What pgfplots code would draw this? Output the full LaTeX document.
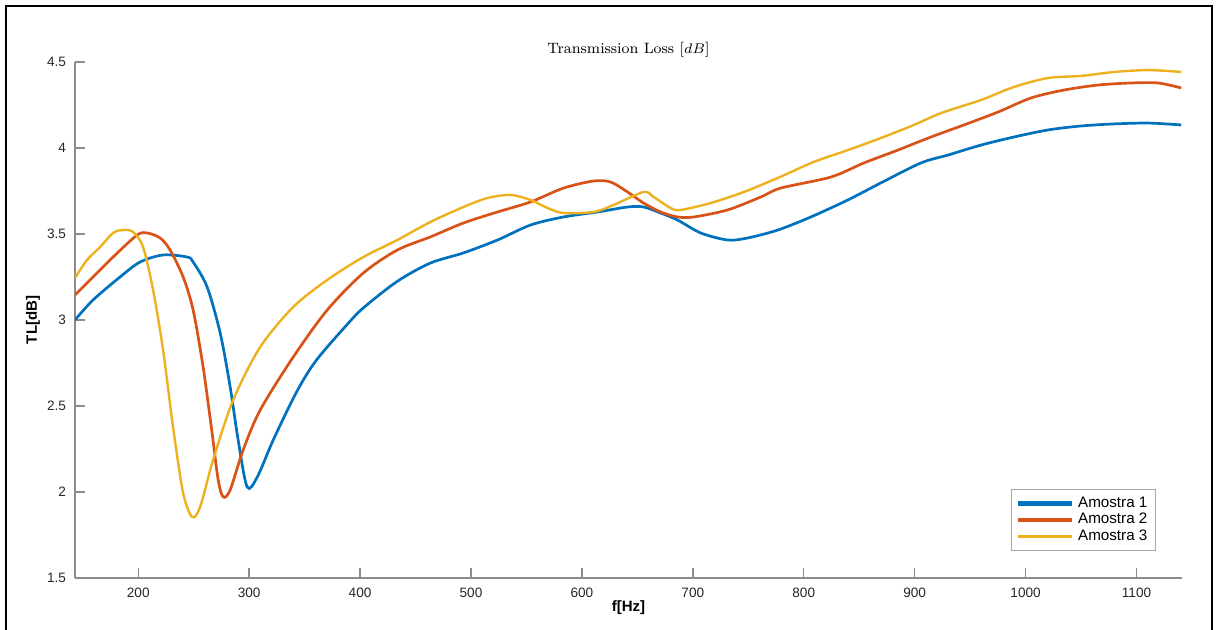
\documentclass[border=0pt]{standalone}
\usepackage{fontspec}
\usepackage{pgfplots}
\pgfplotsset{compat=1.18}
\newfontfamily\hv{Liberation Sans}
\definecolor{mblue}{rgb}{0,0.447,0.741}
\definecolor{morange}{rgb}{0.85,0.325,0.098}
\definecolor{myellow}{rgb}{0.929,0.694,0.125}
\definecolor{axgray}{gray}{0.55}
\begin{document}
\begin{tikzpicture}
\useasboundingbox (0,0) rectangle (608pt,315pt);
\draw[line width=1pt] (3pt,-6pt) rectangle (606pt,312pt);
\begin{axis}[
  at={(37.5pt,26pt)}, anchor=south west,
  scale only axis, width=553.5pt, height=258pt,
  xmin=143, xmax=1141, ymin=1.5, ymax=4.5,
  axis lines*=left,
  axis line style={axgray, line width=0.9pt},
  tick style={axgray, line width=0.7pt},
  tick align=inside, major tick length=5pt,
  xtick={200,300,...,1100},
  ytick={1.5,2,2.5,3,3.5,4,4.5},
  yticklabels={1.5,2,2.5,3,3.5,4,4.5},
  /pgf/number format/assume math mode=true,
  /pgf/number format/1000 sep={},
  ticklabel style={font=\hv\fontsize{6.8}{7}\selectfont, text=black!85},
  xticklabel style={yshift=-1.5pt},
  yticklabel style={xshift=-1pt},
  title={Transmission Loss [$dB$]},
  title style={font=\fontsize{7.5}{9}\selectfont, at={(axis description cs:0.5,1)}, anchor=center, yshift=0pt},
  xlabel={f[Hz]},
  xlabel style={font=\hv\bfseries\fontsize{7.5}{8}\selectfont, at={(axis description cs:0.5,0)}, anchor=center, yshift=-15pt},
  ylabel={TL[dB]},
  ylabel style={font=\hv\bfseries\fontsize{7.5}{8}\selectfont, at={(axis description cs:0,0.5)}, anchor=center, yshift=21pt},
  legend style={at={(0.9765,0.0523)}, anchor=south east, draw=black!35, line width=0.6pt,
    font=\hv\fontsize{7.6}{8}\selectfont, row sep=-2.5pt, inner xsep=2pt, inner ysep=1.5pt},
  legend cell align=left,
  legend image code/.code={\draw[#1] (0pt,0pt) -- (27pt,0pt);},
]
\addplot[mblue, line width=1.35pt, smooth, tension=0.5, forget plot] coordinates {
(143,3.000) (159.2,3.116) (183.6,3.250) (201.7,3.337) (222.4,3.378) (244.1,3.366)
(249.5,3.337) (262.1,3.192) (273.9,2.924) (282.9,2.610) (290.1,2.302) (298.2,2.029)
(307.3,2.087) (321.7,2.302) (339.8,2.545) (352,2.685) (364.1,2.795) (388.5,2.975) (402.9,3.070)
(433.6,3.225) (463.4,3.331) (493.2,3.390) (523.9,3.465) (553.6,3.552) (583.4,3.599)
(614.1,3.628) (641.2,3.657) (655.6,3.657) (671,3.622) (686.3,3.581) (707.1,3.506)
(731.4,3.465) (749.5,3.477) (776.6,3.523) (806.4,3.599) (839.8,3.698) (869.5,3.797)
(905.6,3.913) (930,3.959) (959.8,4.017) (989.6,4.064) (1020.3,4.105) (1050,4.128)
(1079.8,4.140) (1110.5,4.145) (1140.3,4.134)};
\addplot[morange, line width=1.35pt, smooth, tension=0.5, forget plot] coordinates {
(143,3.145) (159.2,3.250) (177.3,3.366) (199,3.494) (208,3.506) (219.7,3.477)
(228.7,3.407) (240.5,3.250) (249.5,3.058) (258.5,2.727) (266.6,2.343) (272.1,2.070)
(276.6,1.971) (282.9,2.012) (294.6,2.244) (310,2.477) (339.8,2.785) (370.4,3.058)
(402.9,3.273) (433.6,3.407) (463.4,3.483) (493.2,3.564) (523.9,3.628) (553.6,3.686)
(583.4,3.767) (610.5,3.808) (625.9,3.802) (641.2,3.744) (655.6,3.680) (671,3.628)
(686.3,3.599) (700.8,3.599) (731.4,3.640) (761.2,3.715) (779.3,3.767) (824.4,3.831)
(854.2,3.913) (884.9,3.988) (914.7,4.064) (944.4,4.134) (975.1,4.209) (1004.9,4.291)
(1034.7,4.337) (1065.4,4.366) (1095.2,4.378) (1119.5,4.378) (1140.3,4.349)};
\addplot[myellow, line width=1.2pt, smooth, tension=0.5, forget plot] coordinates {
(143,3.244) (153.8,3.349) (165.6,3.424) (177.3,3.506) (186.3,3.523) (195.3,3.512)
(204.4,3.424) (213.4,3.174) (222.4,2.826) (231.4,2.378) (240.5,1.994) (248.6,1.855)
(255.8,1.913) (267.5,2.186) (285.6,2.535) (310,2.843) (339.8,3.076) (370.4,3.233)
(402.9,3.366) (433.6,3.465) (463.4,3.570) (493.2,3.657) (514.8,3.709) (535.6,3.727)
(553.6,3.698) (569,3.651) (583.4,3.622) (610.5,3.628) (628.6,3.669) (655.6,3.744)
(664.7,3.715) (680,3.651) (689,3.640) (716.1,3.680) (745.9,3.744) (776.6,3.826)
(809.1,3.919) (839.8,3.988) (869.5,4.058) (899.3,4.134) (923.7,4.203) (959.8,4.279)
(989.6,4.355) (1020.3,4.407) (1050,4.419) (1079.8,4.442) (1110.5,4.453) (1140.3,4.442)};
\addlegendimage{mblue, line width=2.2pt}
\addlegendentry{Amostra 1}
\addlegendimage{morange, line width=2.2pt}
\addlegendentry{Amostra 2}
\addlegendimage{myellow, line width=1.6pt}
\addlegendentry{Amostra 3}
\end{axis}
\end{tikzpicture}
\end{document}
